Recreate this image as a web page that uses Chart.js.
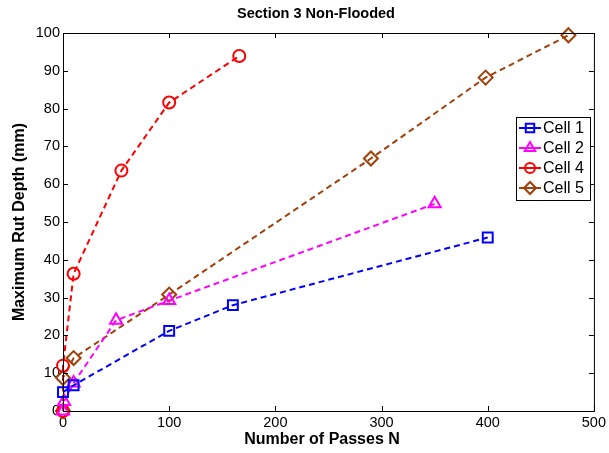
<!DOCTYPE html>
<html>
<head>
<meta charset="utf-8">
<script src="https://cdn.jsdelivr.net/npm/chart.js@4"></script>
<style>
  html, body { margin: 0; padding: 0; background: #fff; }
  #wrap { width: 609px; height: 453px; }
</style>
</head>
<body>
<div id="wrap"><canvas id="c" width="609" height="453"></canvas></div>
<script>
// values
const cell1X = [0, 10, 100, 160, 400];
const cell1Y = [5, 6.8, 21.2, 28, 45.9];
const cell2X = [0, 1, 10, 50, 100, 350];
const cell2Y = [0, 2.5, 7.4, 24, 29.2, 54.8];
const cell4X = [0, 0, 10, 55, 100, 166];
const cell4Y = [0, 12, 36.3, 63.6, 81.6, 93.9];
const cell5X = [0, 0, 10, 100, 290, 398, 476];
const cell5Y = [0, 8.8, 14, 30.8, 66.8, 88.2, 99.4];
const xTicks = [0, 100, 200, 300, 400, 500];
const yTicks = [0, 10, 20, 30, 40, 50, 60, 70, 80, 90, 100];

const pts = (xs, ys) => xs.map((x, i) => ({ x, y: ys[i] }));
const FONT = 'Liberation Sans, Arial, sans-serif';

function series(label, xs, ys, color, style, radius) {
  return {
    label, data: pts(xs, ys), showLine: true,
    borderColor: color, backgroundColor: 'transparent',
    borderWidth: 2, borderDash: [6, 4],
    pointStyle: style, pointRadius: radius, pointHoverRadius: radius,
    pointBorderColor: color, pointBorderWidth: 2, pointBackgroundColor: 'transparent',
    clip: false
  };
}

const datasets = [
  series('Cell 1', cell1X, cell1Y, '#0000ff', 'rect', 7),
  series('Cell 2', cell2X, cell2Y, '#ff00ff', 'triangle', 7),
  series('Cell 4', cell4X, cell4Y, '#ff0000', 'circle', 6),
  series('Cell 5', cell5X, cell5Y, '#a0400a', 'rectRot', 7)
];

// frame, inner ticks, titles, legend
const matlabLook = {
  id: 'matlabLook',
  afterDraw(chart) {
    const { ctx, chartArea: a, scales: { x, y } } = chart;
    ctx.save();
    ctx.strokeStyle = '#000';
    ctx.lineWidth = 1;
    ctx.strokeRect(a.left + 0.5, a.top + 0.5, a.right - a.left, a.bottom - a.top);
    ctx.beginPath();
    xTicks.forEach(v => {
      const px = Math.round(x.getPixelForValue(v)) + 0.5;
      ctx.moveTo(px, a.bottom); ctx.lineTo(px, a.bottom - 5);
      ctx.moveTo(px, a.top); ctx.lineTo(px, a.top + 5);
    });
    yTicks.forEach(v => {
      const py = Math.round(y.getPixelForValue(v)) + 0.5;
      ctx.moveTo(a.left, py); ctx.lineTo(a.left + 5, py);
      ctx.moveTo(a.right, py); ctx.lineTo(a.right - 5, py);
    });
    ctx.stroke();

    ctx.fillStyle = '#000';
    ctx.textAlign = 'center';
    ctx.textBaseline = 'middle';
    ctx.font = 'bold 14.5px ' + FONT;
    ctx.fillText('Section 3 Non-Flooded', 316, 14);
    ctx.font = 'bold 16px ' + FONT;
    ctx.fillText('Number of Passes N', 322, 440);
    ctx.save();
    ctx.translate(20, (a.top + a.bottom) / 2);
    ctx.rotate(-Math.PI / 2);
    ctx.fillText('Maximum Rut Depth (mm)', 0, 0);
    ctx.restore();

    // legend box
    const lx = 516, ly = 117, lw = 74, lh = 83;
    ctx.fillStyle = '#fff';
    ctx.fillRect(lx, ly, lw, lh);
    ctx.strokeRect(lx + 0.5, ly + 0.5, lw, lh);
    ctx.font = '16px ' + FONT;
    ctx.textAlign = 'left';
    datasets.forEach((d, i) => {
      const cy = ly + 11 + i * 20;
      ctx.strokeStyle = d.borderColor;
      ctx.lineWidth = 2;
      ctx.setLineDash([]);
      ctx.beginPath();
      ctx.moveTo(lx + 3, cy); ctx.lineTo(lx + 25, cy);
      ctx.stroke();
      ctx.fillStyle = '#fff';
      Chart.helpers.drawPoint(ctx, { pointStyle: d.pointStyle, radius: d.pointRadius - 1, borderWidth: 2 }, lx + 14, cy);
      ctx.strokeStyle = d.borderColor;
      ctx.beginPath();
      ctx.moveTo(lx + 9, cy); ctx.lineTo(lx + 19, cy);
      ctx.stroke();
      ctx.fillStyle = '#000';
      ctx.fillText(d.label, lx + 27, cy + 1);
    });
    ctx.restore();
  }
};

new Chart(document.getElementById('c'), {
  type: 'scatter',
  data: { datasets },
  plugins: [matlabLook],
  options: {
    responsive: false,
    animation: false,
    layout: { padding: { top: 33, right: 11, left: 0, bottom: 0 } },
    plugins: { legend: { display: false }, title: { display: false }, tooltip: { enabled: false } },
    scales: {
      x: {
        type: 'linear', min: 0, max: 500,
        afterFit: s => { s.height = 42; },
        afterBuildTicks: s => { s.ticks = xTicks.map(v => ({ value: v })); },
        grid: { display: false, drawTicks: false },
        border: { display: false },
        ticks: { color: '#000', font: { size: 14.5, family: FONT }, padding: 3, maxRotation: 0 }
      },
      y: {
        type: 'linear', min: 0, max: 100,
        afterFit: s => { s.width = 63; },
        afterBuildTicks: s => { s.ticks = yTicks.map(v => ({ value: v })); },
        grid: { display: false, drawTicks: false },
        border: { display: false },
        ticks: { color: '#000', font: { size: 14.5, family: FONT }, padding: 3 }
      }
    }
  }
});
</script>
</body>
</html>
